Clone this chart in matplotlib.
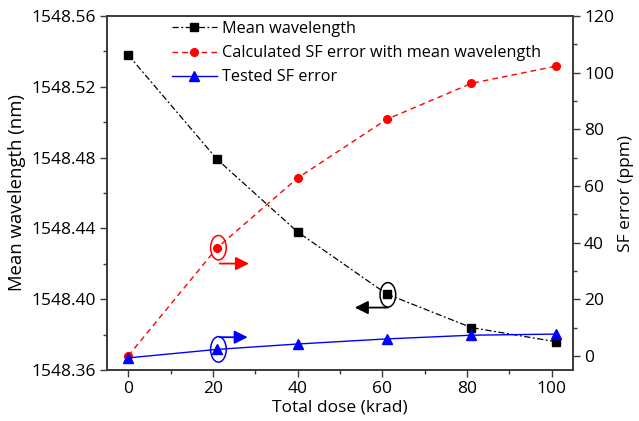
import numpy as np
import matplotlib
matplotlib.use('Agg')
import matplotlib.pyplot as plt
from matplotlib.patches import Ellipse
from matplotlib.ticker import MultipleLocator

plt.rcParams['font.family'] = ['Open Sans', 'DejaVu Sans']
plt.rcParams['font.size'] = 12.5

# data
dose = [0, 21, 40, 61, 81, 101]
mean_wl = [1548.538, 1548.479, 1548.438, 1548.403, 1548.384, 1548.376]
calc_err = [0.0, 38.2, 62.8, 83.5, 96.2, 102.3]
tested_err = [-0.7, 2.3, 4.2, 6.0, 7.3, 7.7]

fig = plt.figure(figsize=(6.39, 4.21), dpi=100)
fig.subplots_adjust(left=0.1675, right=0.8967, top=0.962, bottom=0.121)
ax = fig.add_subplot(111)
ax2 = ax.twinx()

l1, = ax.plot(dose, mean_wl, color='black', lw=0.9, ls=(0, (5, 2, 1.5, 2)),
              marker='s', ms=5.5, label='Mean wavelength')
l2, = ax2.plot(dose, calc_err, color='red', lw=1.0, ls=(0, (4, 3)),
               marker='o', ms=5.5, mec='red', label='Calculated SF error with mean wavelength')
l3, = ax2.plot(dose, tested_err, color='blue', lw=1.0, ls='-',
               marker='^', ms=7, label='Tested SF error')

ax.set_xlim(-5, 105)
ax.set_ylim(1548.36, 1548.56)
ax2.set_ylim(-5, 120)
ax.set_xticks([0, 20, 40, 60, 80, 100])
ax.xaxis.set_minor_locator(MultipleLocator(10))
ax.set_yticks([1548.36, 1548.40, 1548.44, 1548.48, 1548.52, 1548.56])
ax.yaxis.set_minor_locator(MultipleLocator(0.02))
ax.set_yticklabels(['%.2f' % v for v in ax.get_yticks()])
ax2.set_yticks([0, 20, 40, 60, 80, 100, 120])
ax2.yaxis.set_minor_locator(MultipleLocator(10))

for a in (ax, ax2):
    for s in a.spines.values():
        s.set_color('#3a3a3a')
        s.set_linewidth(1.2)
    a.tick_params(which='major', length=5, width=1, color='#3a3a3a', labelsize=12.5, pad=3)
    a.tick_params(which='minor', length=3, width=1, color='#3a3a3a')

ax.set_xlabel('Total dose (krad)', labelpad=2)
ax.set_ylabel('Mean wavelength (nm)', labelpad=4, fontsize=13.3)
ax2.set_ylabel('SF error (ppm)', labelpad=3)

# ellipses and arrows pointing to the axis of each curve
arrow = dict(arrowstyle='-|>', lw=1.3, mutation_scale=20, shrinkA=0, shrinkB=0)
ax2.add_patch(Ellipse((dose[1] + 0.3, calc_err[1]), 3.7, 8.6, fill=False, ec='red', lw=1.1))
ax2.annotate('', xy=(28.5, calc_err[1] - 5.6), xytext=(dose[1] + 0.6, calc_err[1] - 5.6),
             arrowprops=dict(arrow, color='red'))
ax2.add_patch(Ellipse((dose[1] + 0.3, tested_err[1]), 3.7, 9.0, fill=False, ec='blue', lw=1.1))
ax2.annotate('', xy=(28.2, tested_err[1] + 4.3), xytext=(dose[1] + 0.6, tested_err[1] + 4.3),
             arrowprops=dict(arrow, color='blue'))
ax.add_patch(Ellipse((dose[3] + 0.3, mean_wl[3] - 0.0005), 3.7, 0.0138, fill=False, ec='black', lw=1.1))
ax.annotate('', xy=(53.5, mean_wl[3] - 0.0077), xytext=(dose[3] + 0.3, mean_wl[3] - 0.0077),
            arrowprops=dict(arrow, color='black'))

ax2.legend(handles=[l1, l2, l3], loc='upper left', bbox_to_anchor=(0.135, 0.99),
           frameon=False, borderaxespad=0, borderpad=0.1, handlelength=2.8,
           handletextpad=0.3, labelspacing=0.5, fontsize=11.7)

fig.savefig('out.png', dpi=100)
